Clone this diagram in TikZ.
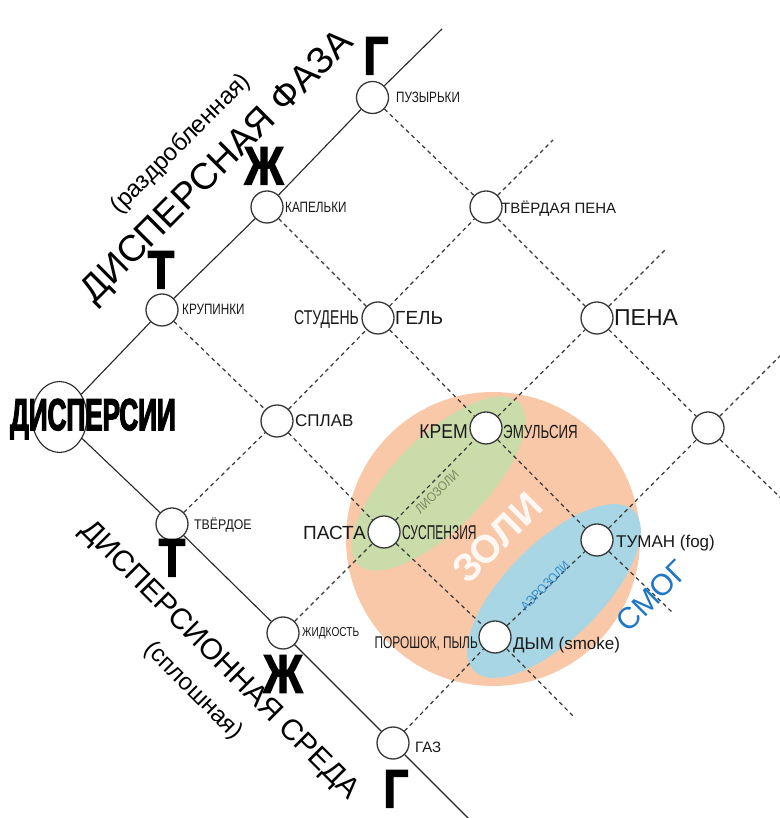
\documentclass[tikz,border=0pt]{standalone}
\usepackage{fontspec}
\setmainfont{Liberation Sans}
\newfontfamily\nA[FakeStretch=0.78]{Liberation Sans}
\newfontfamily\nB[FakeStretch=0.6]{Liberation Sans}
\newfontfamily\nC[FakeStretch=0.88]{Liberation Sans}
\newfontfamily\nD[FakeStretch=0.7]{Liberation Sans}
\newfontfamily\hv[FakeStretch=0.8,FakeBold=2.5]{Liberation Sans Bold}
\newfontfamily\hvd[FakeStretch=0.58,FakeBold=2.5]{Liberation Sans Bold}
\usetikzlibrary{shapes.geometric,calc}
\newcommand{\fsz}[1]{\fontsize{#1}{#1}\selectfont}
\definecolor{peach}{RGB}{248,200,168}
\definecolor{lgreen}{RGB}{202,220,170}
\definecolor{lblue}{RGB}{168,214,228}
\definecolor{olivegrey}{RGB}{120,135,98}
\definecolor{smogblue}{RGB}{30,118,196}
\definecolor{aeroblue}{RGB}{52,140,205}
\definecolor{linegrey}{RGB}{55,55,55}
\tikzset{
  dot/.style={circle,draw=linegrey,line width=1.3pt,fill=white,minimum size=32pt,inner sep=0pt},
  dline/.style={draw=linegrey,line width=1.2pt,dash pattern=on 4pt off 3.5pt},
  sline/.style={draw=black!85,line width=1.1pt},
  lab/.style={inner sep=0pt,text depth=0pt,text=black!90},
  bigletter/.style={inner sep=0pt,font=\hv\fsz{54}},
}
\begin{document}
\begin{tikzpicture}[x=1pt,y=1pt]
\fill[white] (0,0) rectangle (779,818);
\useasboundingbox (0,0) rectangle (779,818);
% backgrounds
\fill[peach] (493,279) circle (147);
\fill[lgreen,rotate around={45:(438.5,334.5)}] (438.5,334.5) ellipse (114 and 46);
\fill[lblue,rotate around={45:(554,227)}] (554,227) ellipse (113 and 48);
% origin ellipse
\node[ellipse,draw=black!85,line width=1.1pt,fill=white,minimum width=55pt,minimum height=71pt,inner sep=0pt] (D) at (59.5,401) {};
% grid nodes (measured positions)
\foreach \n/\x/\y in {10/162/508, 20/267/611, 30/372.5/720.5,
                      01/172/294, 02/283/185, 03/393/75,
                      11/277/397, 21/378/500, 31/486/611,
                      12/384/286, 22/486/390, 32/597/500,
                      13/495/181, 23/597/278, 33/708/390}
  \node[dot] (n\n) at (\x,\y) {};
% free ends
\coordinate (eU1) at (553,678);
\coordinate (eU2) at (665,568);
\coordinate (eU3) at (785,467);
\coordinate (eV1) at (575,100);
\coordinate (eV2) at (673,205);
\coordinate (eV3) at (785,316);
\coordinate (topend) at (442,789);
\coordinate (botend) at (482,-14);
% dashed lattice
\foreach \i in {1,2,3} \draw[dline] (n\i0) -- (n\i1) -- (n\i2) -- (n\i3) -- (eV\i);
\foreach \j in {1,2,3} \draw[dline] (n0\j) -- (n1\j) -- (n2\j) -- (n3\j) -- (eU\j);
% solid axes
\draw[sline] (D) -- (n10) -- (n20) -- (n30) -- (topend);
\draw[sline] (D) -- (n01) -- (n02) -- (n03) -- (botend);
% axis titles
\node[inner sep=0pt,rotate=45,font=\fsz{37}] (tF) at (218,650) {ДИСПЕРСНАЯ ФАЗА};
\node[inner sep=0pt,rotate=45,font=\fsz{24}] (tFs) at (181,674) {(раздробленная)};
\node[inner sep=0pt,rotate=-45,font=\fsz{29.5}] (tS) at (219,157) {ДИСПЕРСИОННАЯ СРЕДА};
\node[inner sep=0pt,rotate=-45,font=\fsz{24}] (tSs) at (193,127) {(сплошная)};
% big letters
\node[bigletter] (G1) at (376,762) {Г};
\node[bigletter] (Zh1) at (264,652) {Ж};
\node[bigletter] (T1) at (161,548) {Т};
\node[bigletter] (T2) at (172,260) {Т};
\node[bigletter] (Zh2) at (283,144) {Ж};
\node[bigletter] (G2) at (396,29) {Г};
\node[inner sep=0pt,font=\hvd\fsz{45}] (Dt) at (93,399) {ДИСПЕРСИИ};
% labels
\node[lab,anchor=west,font=\nA\fsz{15}] (l30) at (396,721) {ПУЗЫРЬКИ};
\node[lab,anchor=west,font=\nA\fsz{15}] (l20) at (285,611) {КАПЕЛЬКИ};
\node[lab,anchor=west,font=\nA\fsz{15}] (l10) at (182,509) {КРУПИНКИ};
\node[lab,anchor=west,font=\fsz{15}] (l31) at (501,611) {ТВЁРДАЯ ПЕНА};
\node[lab,anchor=east,font=\nD\fsz{20}] (l21a) at (359,500) {СТУДЕНЬ};
\node[lab,anchor=west,font=\fsz{19}] (l21b) at (395,500) {ГЕЛЬ};
\node[lab,anchor=west,font=\fsz{23}] (l32) at (614,500) {ПЕНА};
\node[lab,anchor=west,font=\fsz{17}] (l11) at (295,397) {СПЛАВ};
\node[lab,anchor=west,font=\nC\fsz{14}] (l01) at (194,294) {ТВЁРДОЕ};
\node[lab,anchor=east,font=\fsz{19}] (l12a) at (366,285) {ПАСТА};
\node[lab,anchor=west,font=\nB\fsz{20}] (l12b) at (402,285) {СУСПЕНЗИЯ};
\node[lab,anchor=west,font=\nA\fsz{13}] (l02) at (302,186) {ЖИДКОСТЬ};
\node[lab,anchor=west,font=\fsz{15}] (l03) at (415,71) {ГАЗ};
\node[lab,anchor=east,font=\nC\fsz{20}] (l22a) at (468,386) {КРЕМ};
\node[lab,anchor=west,font=\nD\fsz{19}] (l22b) at (503,386) {ЭМУЛЬСИЯ};
\node[lab,anchor=west,font=\fsz{17}] (l23) at (616,277) {ТУМАН (fog)};
\node[lab,anchor=west,font=\fsz{17}] (l13b) at (513,175) {ДЫМ (smoke)};
\node[lab,anchor=east,font=\nD\fsz{17}] (l13a) at (478,175) {ПОРОШОК, ПЫЛЬ};
% group labels
\node[inner sep=0pt,rotate=45,font=\bfseries\fsz{39},text=white,text opacity=0.88] (zoli) at (497,280) {ЗОЛИ};
\node[inner sep=0pt,rotate=45,font=\nC\fsz{13},text=olivegrey] (lio) at (437,326) {ЛИОЗОЛИ};
\node[inner sep=0pt,rotate=45,font=\nC\fsz{13},text=aeroblue] (aero) at (545,232) {АЭРОЗОЛИ};
\node[inner sep=0pt,rotate=45,font=\fsz{30},text=smogblue] (smog) at (652,222) {СМОГ};
\end{tikzpicture}
\end{document}
